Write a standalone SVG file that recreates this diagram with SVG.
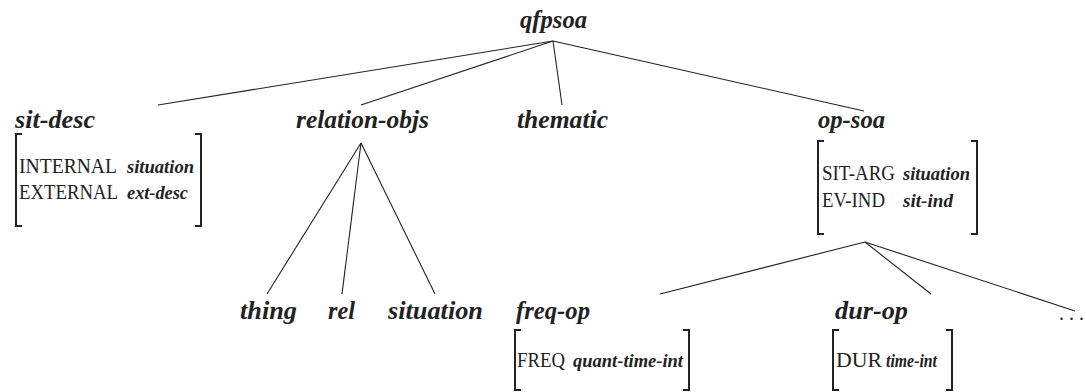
<svg xmlns="http://www.w3.org/2000/svg" width="1086" height="392" viewBox="0 0 1086 392">
  <style>
    .type { font-family: "Liberation Serif", "Times New Roman", serif; font-style: italic; font-weight: bold; font-size: 26px; fill: #222; }
    .feat { font-family: "Liberation Serif", "Times New Roman", serif; font-size: 20px; fill: #222; }
    .val { font-family: "Liberation Serif", "Times New Roman", serif; font-style: italic; font-weight: bold; font-size: 18px; fill: #222; }
    .edge { stroke: #222; stroke-width: 1.1; fill: none; }
    .brk { stroke: #222; stroke-width: 2; fill: none; }
  </style>

  <g id="connectors">
    <!-- root to first-level subtypes -->
    <line class="edge" x1="553" y1="41" x2="158" y2="105"/>
    <line class="edge" x1="553" y1="41" x2="361" y2="105"/>
    <line class="edge" x1="553" y1="41" x2="562" y2="105"/>
    <line class="edge" x1="553" y1="41" x2="864" y2="111"/>
    <!-- relation-objs subtypes -->
    <line class="edge" x1="361" y1="143" x2="267" y2="294"/>
    <line class="edge" x1="361" y1="143" x2="342" y2="294"/>
    <line class="edge" x1="361" y1="143" x2="435" y2="294"/>
    <!-- op-soa subtypes -->
    <line class="edge" x1="865" y1="242" x2="660" y2="294"/>
    <line class="edge" x1="865" y1="242" x2="931" y2="294"/>
    <line class="edge" x1="865" y1="242" x2="1075" y2="311"/>
  </g>

  <g id="qfpsoa">
    <text class="type" x="520" y="28" textLength="67" lengthAdjust="spacingAndGlyphs">qfpsoa</text>
  </g>

  <g id="sit-desc">
    <text class="type" x="15" y="128" textLength="80" lengthAdjust="spacingAndGlyphs">sit-desc</text>
    <path class="brk" d="M22 134 H16 V226 H22 M195 134 H201 V226 H195"/>
    <text class="feat" x="19" y="173" textLength="98" lengthAdjust="spacingAndGlyphs">INTERNAL</text>
    <text class="val" x="127" y="173" textLength="67" lengthAdjust="spacingAndGlyphs">situation</text>
    <text class="feat" x="19" y="199" textLength="99" lengthAdjust="spacingAndGlyphs">EXTERNAL</text>
    <text class="val" x="127" y="199" textLength="61" lengthAdjust="spacingAndGlyphs">ext-desc</text>
  </g>

  <g id="relation-objs">
    <text class="type" x="296" y="128" textLength="133" lengthAdjust="spacingAndGlyphs">relation-objs</text>
  </g>

  <g id="thematic">
    <text class="type" x="517" y="128" textLength="91" lengthAdjust="spacingAndGlyphs">thematic</text>
  </g>

  <g id="op-soa">
    <text class="type" x="818" y="128" textLength="67" lengthAdjust="spacingAndGlyphs">op-soa</text>
    <path class="brk" d="M824 141 H818 V234 H824 M971 141 H977 V234 H971"/>
    <text class="feat" x="822" y="180" textLength="73" lengthAdjust="spacingAndGlyphs">SIT-ARG</text>
    <text class="val" x="903" y="180" textLength="67" lengthAdjust="spacingAndGlyphs">situation</text>
    <text class="feat" x="822" y="207" textLength="63" lengthAdjust="spacingAndGlyphs">EV-IND</text>
    <text class="val" x="903" y="207" textLength="50" lengthAdjust="spacingAndGlyphs">sit-ind</text>
  </g>

  <g id="thing">
    <text class="type" x="240" y="319" textLength="57" lengthAdjust="spacingAndGlyphs">thing</text>
  </g>

  <g id="rel">
    <text class="type" x="328" y="319" textLength="27" lengthAdjust="spacingAndGlyphs">rel</text>
  </g>

  <g id="situation">
    <text class="type" x="388" y="319" textLength="95" lengthAdjust="spacingAndGlyphs">situation</text>
  </g>

  <g id="freq-op">
    <text class="type" x="516" y="319" textLength="74" lengthAdjust="spacingAndGlyphs">freq-op</text>
    <path class="brk" d="M521 330 H515 V390 H521 M683 330 H689 V390 H683"/>
    <text class="feat" x="517" y="367" textLength="48" lengthAdjust="spacingAndGlyphs">FREQ</text>
    <text class="val" x="573" y="367" textLength="110" lengthAdjust="spacingAndGlyphs">quant-time-int</text>
  </g>

  <g id="dur-op">
    <text class="type" x="835" y="319" textLength="73" lengthAdjust="spacingAndGlyphs">dur-op</text>
    <path class="brk" d="M839 330 H833 V390 H839 M946 330 H952 V390 H946"/>
    <text class="feat" x="836" y="367" textLength="46" lengthAdjust="spacingAndGlyphs">DUR</text>
    <text class="val" x="886" y="367" textLength="51" lengthAdjust="spacingAndGlyphs">time-int</text>
  </g>

  <g id="more">
    <text class="feat" x="1059" y="320" font-size="22">. . .</text>
  </g>
</svg>
